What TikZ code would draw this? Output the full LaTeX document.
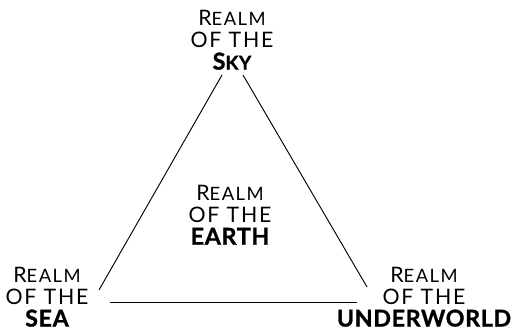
\documentclass[tikz,border=0pt]{standalone}
\usepackage{fontspec}
\setmainfont{Lato}[LetterSpace=8, BoldFeatures={LetterSpace=3, FakeBold=1.2}]

\newcommand{\hicap}[1]{{\fontsize{16}{16.5}\selectfont #1}}
\newcommand{\locap}[1]{{\fontsize{13.8}{16.5}\selectfont #1}}
\newcommand{\hibold}[1]{{\fontsize{17.4}{16.5}\selectfont\bfseries #1}}
\newcommand{\lobold}[1]{{\fontsize{14.2}{16.5}\selectfont\bfseries #1}}
\newcommand{\realmof}{\hicap{R}\locap{EALM}\\\hicap{OF THE}}

\begin{document}
\begin{tikzpicture}[x=0.75pt, y=-0.75pt,
  realm/.style={align=center, inner sep=0pt, font=\fontsize{16}{16.5}\selectfont},
  side/.style={line width=0.7pt}]
\useasboundingbox (0,0) rectangle (516,331);
% i quattro regni
\node[realm] (sky) at (232,40) {\realmof\\\hibold{S}\lobold{KY}};
\node[realm] (earth) at (230,215) {\realmof\\\hibold{EARTH}};
\node[realm] (sea) at (47,297) {\realmof\\\hibold{SEA}};
\node[realm] (under) at (424,297) {\realmof\\\hibold{UNDERWORLD}};
% estremi dei lati, appena fuori dalle scritte
\coordinate (skyL) at (222,75);
\coordinate (skyR) at (243,75);
\coordinate (seaT) at (99,290);
\coordinate (seaR) at (110,302.5);
\coordinate (undT) at (367,287);
\coordinate (undL) at (357,302.5);
% triangolo
\draw[side] (skyL) -- (seaT);
\draw[side] (skyR) -- (undT);
\draw[side] (seaR) -- (undL);
\end{tikzpicture}
\end{document}
